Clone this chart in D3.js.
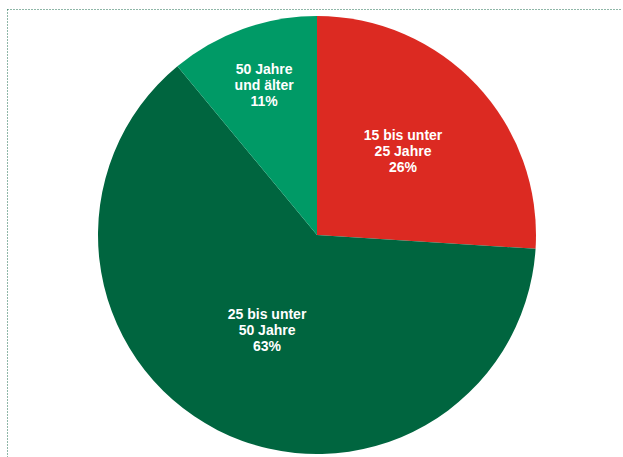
<!DOCTYPE html>
<html>
<head>
<meta charset="utf-8">
<script src="https://cdn.jsdelivr.net/npm/d3@7"></script>
<style>
  html, body { margin: 0; padding: 0; background: #fff; }
  svg { display: block; }
</style>
</head>
<body>
<svg width="623" height="457"></svg>
<script>
var categories = [["15 bis unter", "25 Jahre"], ["25 bis unter", "50 Jahre"], ["50 Jahre", "und älter"]],
    shares = [26, 63, 11],
    colors = ["#dc2a22", "#00653f", "#009a66"],
    labelRadii = [118, 110, 156];

var svg = d3.select("svg"),
    width = +svg.attr("width"),
    height = +svg.attr("height"),
    cx = 317,
    cy = 235,
    radius = 219;

// dotted frame, top and left only
svg.append("line")
    .attr("x1", 7.5).attr("y1", 9.5)
    .attr("x2", 621).attr("y2", 9.5)
    .attr("stroke", "#1f6e50")
    .attr("stroke-width", 1)
    .attr("stroke-dasharray", "1,2");
svg.append("line")
    .attr("x1", 7.5).attr("y1", 9.5)
    .attr("x2", 7.5).attr("y2", height)
    .attr("stroke", "#1f6e50")
    .attr("stroke-width", 1)
    .attr("stroke-dasharray", "1,2");

var pie = d3.pie()
    .sort(null)
    .value(function(d) { return d; });

var arcs = pie(shares);

var arc = d3.arc()
    .innerRadius(0)
    .outerRadius(radius);

var g = svg.append("g")
    .attr("transform", "translate(" + cx + "," + cy + ")");

g.selectAll("path")
    .data(arcs)
  .enter().append("path")
    .attr("d", arc)
    .attr("fill", function(d, i) { return colors[i]; });

var label = g.selectAll("text")
    .data(arcs)
  .enter().append("text")
    .attr("transform", function(d, i) {
      var r = labelRadii[i],
          c = d3.arc().innerRadius(r).outerRadius(r).centroid(d);
      return "translate(" + c[0] + "," + (c[1] - 3) + ")";
    })
    .attr("text-anchor", "middle")
    .attr("fill", "#fff")
    .attr("font-family", "'Liberation Sans', Arial, sans-serif")
    .attr("font-weight", "bold")
    .attr("font-size", "14px");

label.each(function(d, i) {
  var lines = categories[i].concat([shares[i] + "%"]),
      t = d3.select(this);
  lines.forEach(function(line, j) {
    t.append("tspan")
        .attr("x", 0)
        .attr("y", (j - 1) * 16)
        .attr("dy", "0.35em")
        .text(line);
  });
});
</script>
</body>
</html>
